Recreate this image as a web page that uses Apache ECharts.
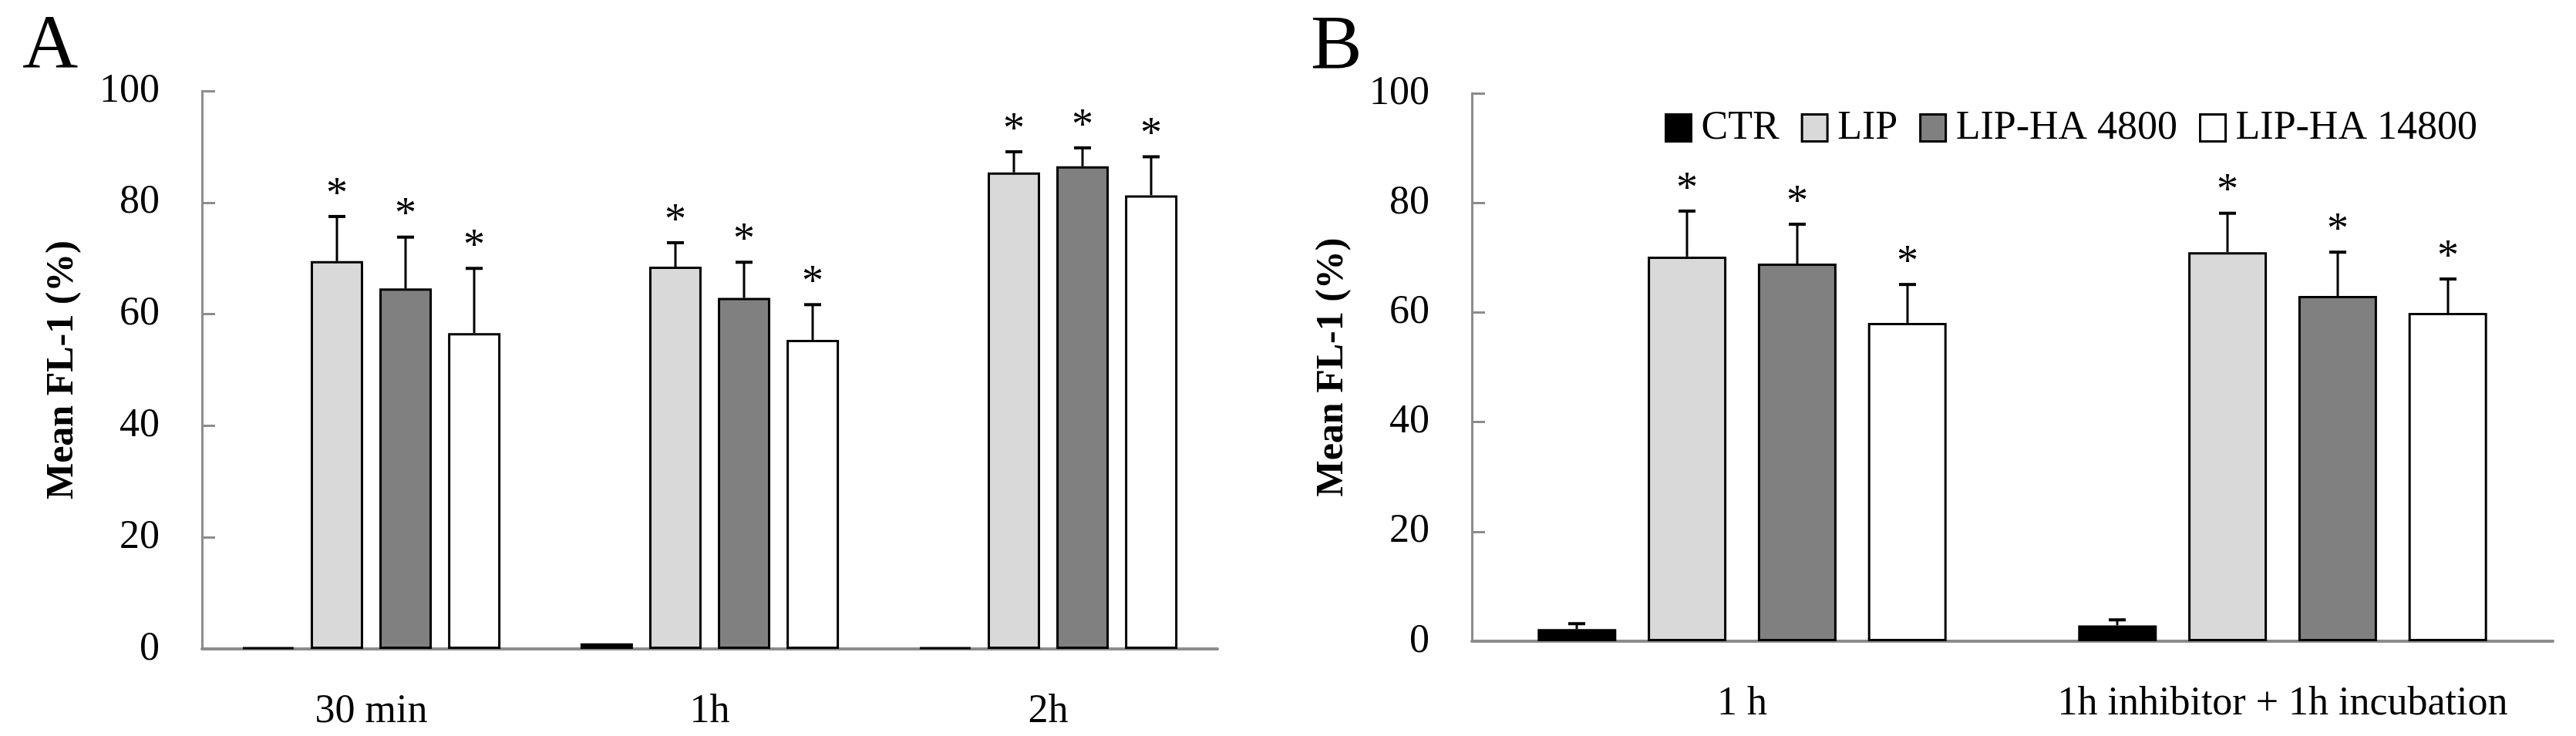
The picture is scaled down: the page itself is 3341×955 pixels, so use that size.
<!DOCTYPE html>
<html>
<head>
<meta charset="utf-8">
<title>Mean FL-1</title>
<script src="https://cdn.jsdelivr.net/npm/echarts@6/dist/echarts.min.js"></script>
<style>
  html, body { margin: 0; padding: 0; background: #fff; }
  #chart { width: 3341px; height: 955px; }
</style>
</head>
<body>
<div id="chart"></div>
<script>
// panel A
let timesA = ['30 min', '1h', '2h']
let ctrA = [0.3, 1.0, 0.3]
let ctrErrA = [0, 0, 0]
let lipA = [69.5, 68.5, 85.4]
let lipErrA = [8.0, 4.3, 3.7]
let ha4800A = [64.6, 62.9, 86.5]
let ha4800ErrA = [9.2, 6.4, 3.3]
let ha14800A = [56.6, 55.4, 81.3]
let ha14800ErrA = [11.6, 6.3, 6.9]

// panel B
let timesB = ['1 h', '1h inhibitor + 1h incubation']
let ctrB = [2.2, 2.9]
let ctrErrB = [1.0, 1.0]
let lipB = [70.2, 71.0]
let lipErrB = [8.3, 7.1]
let ha4800B = [68.9, 63.0]
let ha4800ErrB = [7.2, 8.0]
let ha14800B = [58.1, 59.9]
let ha14800ErrB = [7.0, 6.2]

let names = ['CTR', 'LIP', 'LIP-HA 4800', 'LIP-HA 14800']
let colors = ['#000000', '#d9d9d9', '#808080', '#ffffff']
let yMin = 0, yMax = 100, yStep = 20

let font = 'Liberation Serif'
let axisGrey = '#8c8c8c'

// error bar + star drawn next to each bar
function errorBar(step, idx, star) {
  return function (params, api) {
    let i = api.value(0)
    let err = api.value(2)
    let base = api.coord([i, api.value(1)])
    let top = api.coord([i, api.value(1) + err])
    let x = base[0] + (idx - 1.5) * step
    let kids = []
    if (err > 0) {
      kids.push({type: 'line', shape: {x1: x, y1: base[1], x2: x, y2: top[1]}, style: {stroke: '#000', lineWidth: 3}})
      kids.push({type: 'line', shape: {x1: x - 11, y1: top[1], x2: x + 11, y2: top[1]}, style: {stroke: '#000', lineWidth: 4}})
    }
    if (star) {
      kids.push({type: 'text', x: x, y: top[1] - 27,
        style: {text: '*', fontSize: 56, fontFamily: font, fill: '#000', align: 'center', verticalAlign: 'middle'}})
    }
    return {type: 'group', children: kids}
  }
}

function makeSeries(grid, vals, errs, barWidth, barGap, step) {
  let out = []
  for (let k = 0; k < 4; k++) {
    out.push({
      name: names[k],
      type: 'bar',
      xAxisIndex: grid, yAxisIndex: grid,
      data: vals[k],
      barWidth: barWidth,
      barGap: barGap,
      itemStyle: {color: colors[k], borderColor: '#000', borderWidth: 3}
    })
  }
  for (let k = 0; k < 4; k++) {
    out.push({
      type: 'custom',
      xAxisIndex: grid, yAxisIndex: grid,
      z: 5,
      silent: true,
      renderItem: errorBar(step, k, k > 0),
      data: vals[k].map((v, i) => [i, v, errs[k][i]])
    })
  }
  return out
}

function yAxis(grid) {
  return {
    type: 'value', gridIndex: grid, min: yMin, max: yMax, interval: yStep,
    name: 'Mean FL-1 (%)', nameLocation: 'middle', nameGap: 156,
    nameTextStyle: {fontSize: 50, fontWeight: 'bold', fontFamily: font, color: '#000'},
    axisLine: {show: true, lineStyle: {color: axisGrey, width: 3}},
    axisTick: {show: true, inside: true, length: 17, lineStyle: {color: axisGrey, width: 3}},
    axisLabel: {fontSize: 52, fontFamily: font, color: '#000', margin: 55},
    splitLine: {show: false}
  }
}

function xAxis(grid, cats) {
  return {
    type: 'category', gridIndex: grid, data: cats,
    axisTick: {show: false},
    axisLine: {lineStyle: {color: axisGrey, width: 4}},
    axisLabel: {fontSize: 52, fontFamily: font, color: '#000', margin: 55, interval: 0}
  }
}

let chart = echarts.init(document.getElementById('chart'))
let option = {
  backgroundColor: '#fff',
  animation: false,
  grid: [
    {left: 262, top: 118, width: 1317, height: 724},
    {left: 1909, top: 121, width: 1402, height: 711}
  ],
  legend: {
    data: names, left: 2154, top: 135,
    icon: 'rect', itemWidth: 33, itemHeight: 35, itemGap: 28,
    itemStyle: {borderColor: '#000', borderWidth: 3},
    textStyle: {fontSize: 52, fontFamily: font, color: '#000', padding: [0, 0, 0, 8]}
  },
  graphic: [
    {type: 'text', left: 29, top: 12, style: {text: 'A', fontSize: 100, fontFamily: font, fill: '#000'}},
    {type: 'text', left: 1700, top: 12, style: {text: 'B', fontSize: 100, fontFamily: font, fill: '#000'}}
  ],
  xAxis: [xAxis(0, timesA), xAxis(1, timesB)],
  yAxis: [yAxis(0), yAxis(1)],
  series: [].concat(
    makeSeries(0, [ctrA, lipA, ha4800A, ha14800A], [ctrErrA, lipErrA, ha4800ErrA, ha14800ErrA], 68, '31%', 89),
    makeSeries(1, [ctrB, lipB, ha4800B, ha14800B], [ctrErrB, lipErrB, ha4800ErrB, ha14800ErrB], 102, '40%', 143)
  )
}
chart.setOption(option)
</script>
</body>
</html>
